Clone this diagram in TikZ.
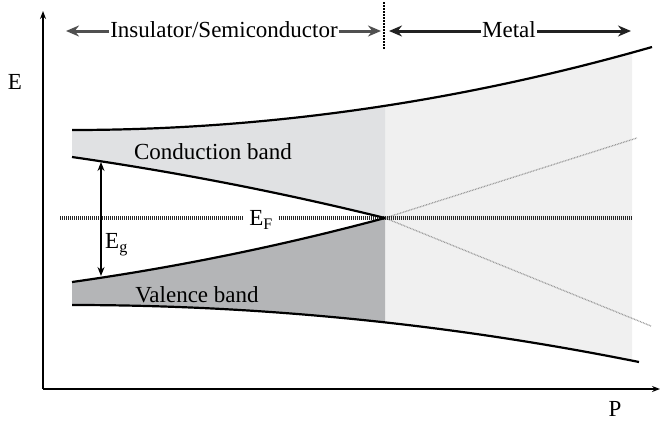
\documentclass[tikz,border=0pt]{standalone}
\usepackage{fontspec}
\setmainfont{Liberation Serif}
\usetikzlibrary{arrows.meta}
\definecolor{condfill}{HTML}{E0E1E3}
\definecolor{valfill}{HTML}{B4B5B7}
\definecolor{metalfill}{HTML}{F0F0F0}
\definecolor{insarrow}{HTML}{505050}
\definecolor{metarrow}{HTML}{222222}
\tikzset{
  lbl/.style={font=\fontsize{23}{27}\selectfont, inner sep=1pt},
  band/.style={line width=2.2pt, black},
  fermi/.style={line width=3.2pt, black!85, dash pattern=on 1pt off 1pt},
  metaldots/.style={line width=1.3pt, black!40, dash pattern=on 0.8pt off 0.8pt},
  toparrow/.style={line width=3pt, -{Stealth[length=13pt,width=11pt]}},
  axisline/.style={line width=1.8pt, -{Stealth[length=8pt,width=6pt]}},
}
\begin{document}
\begin{tikzpicture}[x=1pt,y=-1pt]
\useasboundingbox (0,0) rectangle (660,421);
% fills
\begin{scope}
  \clip (385,0) rectangle (632,421);
  \fill[metalfill] (72,130) .. controls (265.3,130) and (458.7,102.3) .. (652,47) -- (652,380) -- (639,362) .. controls (450,324) and (261,305) .. (72,305) -- cycle;
\end{scope}
\begin{scope}
  \clip (72,130) .. controls (265.3,130) and (458.7,102.3) .. (652,47) -- (652,421) -- (72,421) -- cycle;
  \fill[condfill] (72,157) .. controls (176.3,172) and (280.7,192.3) .. (385,218) -- (385,0) -- (72,0) -- cycle;
\end{scope}
\begin{scope}
  \clip (72,305) .. controls (261,305) and (450,324) .. (639,362) -- (639,0) -- (72,0) -- cycle;
  \fill[valfill] (72,282) .. controls (176.3,267.3) and (280.7,246) .. (385,218) -- (385,421) -- (72,421) -- cycle;
\end{scope}
% coordinates
\coordinate (cross) at (385,218);
\coordinate (fl) at (60,218);
\coordinate (fr) at (632,218);
% metal dotted continuations
\coordinate (mu) at (637,138);
\coordinate (md) at (651,326);
\draw[metaldots] (cross) -- (mu);
\draw[metaldots] (cross) -- (md);
% Fermi level
\node[lbl, fill=white, inner sep=0pt, minimum width=35pt] (ef) at (261,220) {E\textsubscript{F}};
\draw[fermi] (fl) -- (ef.west |- fl);
\draw[fermi] (ef.east |- fl) -- (fr);
% band edges
\draw[band] (72,130) .. controls (265.3,130) and (458.7,102.3) .. (652,47);
\draw[band] (72,157) .. controls (176.3,172) and (280.7,192.3) .. (cross);
\draw[band] (72,282) .. controls (176.3,267.3) and (280.7,246) .. (cross);
\draw[band] (72,305) .. controls (261,305) and (450,324) .. (639,362);
% labels
\node[lbl] (cb) at (213,152) {Conduction band};
\node[lbl] (vb) at (197,295) {Valence band};
% gap arrow
\coordinate (gt) at (101,162);
\coordinate (gb) at (101,276);
\draw[line width=1.3pt, {Stealth[length=9pt,width=7pt]}-{Stealth[length=9pt,width=7pt]}] (gt) -- (gb);
\node[lbl, anchor=west] (eg) at (104,245) {E\textsubscript{g}};
% axes
\coordinate (o) at (43,389);
\coordinate (ytip) at (43,11);
\coordinate (xtip) at (660,389);
\draw[axisline] (o) -- (ytip);
\draw[axisline] (o) -- (xtip);
\node[lbl] (E) at (15,82) {E};
\node[lbl] (P) at (615,409) {P};
% top region labels
\coordinate (sep1) at (384,2);
\coordinate (sep2) at (384,50);
\draw[line width=1.8pt, dash pattern=on 1.5pt off 1.5pt] (sep1) -- (sep2);
\node[lbl] (ins) at (224,30) {Insulator/Semiconductor};
\coordinate (insl) at (66,31);
\coordinate (insr) at (381,31);
\draw[toparrow, insarrow] (ins.west |- insl) -- (insl);
\draw[toparrow, insarrow] (ins.east |- insr) -- (insr);
\node[lbl] (met) at (509,30) {Metal};
\coordinate (metl) at (389,31);
\coordinate (metr) at (631,31);
\draw[toparrow, metarrow] (met.west |- metl) -- (metl);
\draw[toparrow, metarrow] (met.east |- metr) -- (metr);
\end{tikzpicture}
\end{document}
